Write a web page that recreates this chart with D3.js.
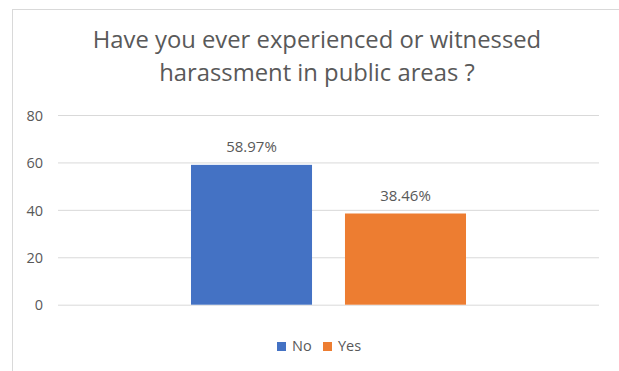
<!DOCTYPE html>
<html>
<head>
<meta charset="utf-8">
<script src="https://cdn.jsdelivr.net/npm/d3@7/dist/d3.min.js"></script>
<style>
  html, body { margin: 0; padding: 0; background: #fff; }
  svg { display: block; }
  text { font-family: "Open Sans", Lato, sans-serif; fill: #595959; }
</style>
</head>
<body>
<script>
// Survey answers, in percent
const categories = ["Response"];
const seriesNames = ["No", "Yes"];
const seriesValues = [58.97, 38.46];
const seriesColors = ["#4472C4", "#ED7D31"];
const yTicks = [0, 20, 40, 60, 80];
const titleLines = ["Have you ever experienced or witnessed", "harassment in public areas ?"];

const W = 619, H = 371;
const plot = { left: 58, right: 599, top: 115, bottom: 304.7 };

const svg = d3.select("body").append("svg").attr("width", W).attr("height", H);

// chart frame (top and left edges visible)
svg.append("line").attr("x1", 12).attr("x2", W).attr("y1", 9.5).attr("y2", 9.5)
  .attr("stroke", "#d9d9d9").attr("stroke-width", 1);
svg.append("line").attr("x1", 12.5).attr("x2", 12.5).attr("y1", 9).attr("y2", H)
  .attr("stroke", "#d9d9d9").attr("stroke-width", 1);

// title
svg.append("g").selectAll("text").data(titleLines).join("text")
  .attr("x", 317).attr("y", (d, i) => 48 + i * 33)
  .attr("text-anchor", "middle")
  .style("font-size", "23.8px")
  .text(d => d);

const y = d3.scaleLinear().domain([0, 80]).range([plot.bottom, plot.top]);
const x0 = d3.scaleBand().domain(categories).range([plot.left, plot.right])
  .paddingInner(0).paddingOuter(0.4836);
const x1 = d3.scaleBand().domain(seriesNames).range([0, x0.bandwidth()])
  .paddingInner(0.214).paddingOuter(0);

// gridlines + tick labels
const yAxis = d3.axisLeft(y).tickValues(yTicks)
  .tickSize(-(plot.right - plot.left)).tickPadding(15);
const gy = svg.append("g").attr("transform", `translate(${plot.left},0)`).call(yAxis);
gy.select(".domain").remove();
gy.selectAll(".tick line").attr("stroke", "#d9d9d9").attr("stroke-width", 1);
gy.selectAll(".tick text").style("font-size", "14.5px").attr("fill", "#595959")
  .attr("dy", "0.36em");

// bars
const group = svg.append("g").attr("transform", `translate(${x0(categories[0])},0)`);
group.selectAll("rect").data(seriesNames).join("rect")
  .attr("x", d => x1(d))
  .attr("width", x1.bandwidth())
  .attr("y", (d, i) => y(seriesValues[i]))
  .attr("height", (d, i) => y(0) - y(seriesValues[i]))
  .attr("fill", (d, i) => seriesColors[i]);

// value labels
group.selectAll("text.val").data(seriesNames).join("text")
  .attr("class", "val")
  .attr("x", d => x1(d) + x1.bandwidth() / 2)
  .attr("y", (d, i) => y(seriesValues[i]) - 12.5)
  .attr("text-anchor", "middle")
  .style("font-size", "15px")
  .text((d, i) => seriesValues[i].toFixed(2) + "%");

// legend
const legend = svg.append("g").attr("transform", "translate(277,351)");
const legendX = [0, 46];
seriesNames.forEach((name, i) => {
  const g = legend.append("g").attr("transform", `translate(${legendX[i]},0)`);
  g.append("rect").attr("x", 0).attr("y", -9).attr("width", 9).attr("height", 9)
    .attr("fill", seriesColors[i]);
  g.append("text").attr("x", 15).attr("y", 0).style("font-size", "14.5px").text(name);
});
</script>
</body>
</html>
